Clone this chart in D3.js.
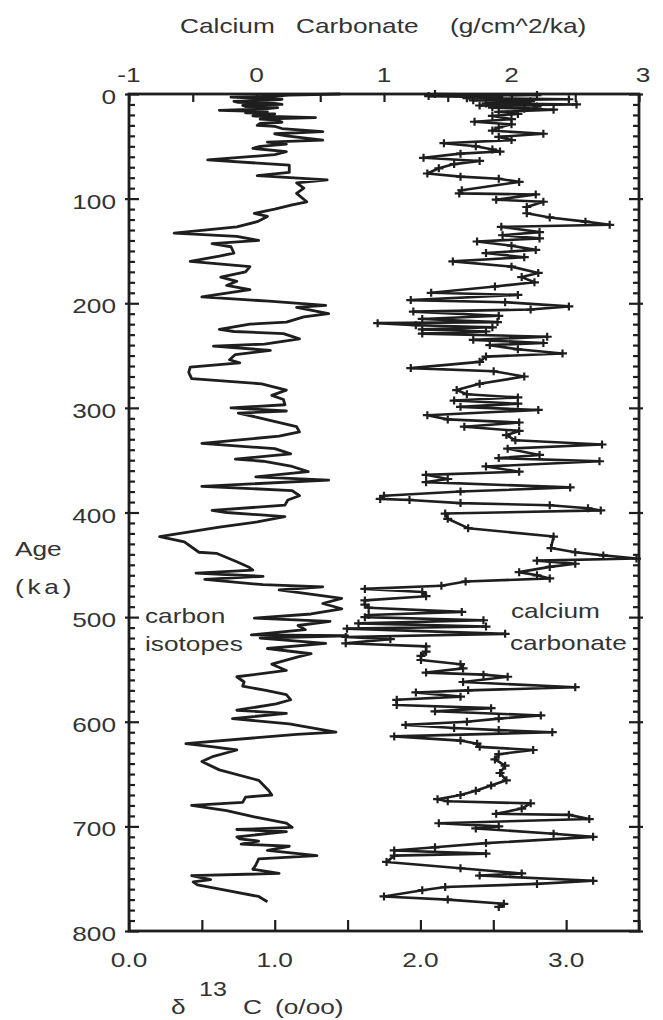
<!DOCTYPE html>
<html>
<head>
<meta charset="utf-8">
<script src="https://cdn.jsdelivr.net/npm/d3@7"></script>
<style>
  body { margin: 0; background: #fff; }
  text { font-family: "Liberation Sans", Arial, Helvetica, sans-serif; fill: #333; }
</style>
</head>
<body>
<svg width="663" height="1020"></svg>
<script>
// carbon isotopes: age (ka) and d13C (o/oo), bottom axis
const carbonAge = [0,1,2,3,4,5,6,7,8,9,10,11,12,13,14,15.6,17,18,19,20,21,22.5,24,25,27,28,30,31,33,36,38,40,44,46,48,50,52,55,58,63,68,75,78,82,85,90,95,103,106,110,114,117,122,127,133,136,140,143,146,152,155,160,165,170,175,179,183,187,194,198,202,204,210,213,218,220,225,227,229,234,239,241,245,249,254,257,261,266,272,277,283,288,292,297,300,303,305,309,318,323,327,334,339,344,349,351,356,361,366,369,375,379,384,388,393,398,400,404,409,414,423,428,438,439,447,452,455,458,461,464,469,471,474,482,487,492,497,501,504,508,512,517,517.8,520,525,530,535,538,545,551,557,562,566,570,574,579,583,589,592,597,602,610,612,621,624,627,633,638,646,656,666,670,672,677,680,685,691,697,701,703,705,710,712,714,717,719,723,728,731,737,741,745,747,751,753,756,761,767,772]
const carbonD13C = [1.45,1.1,1.0,0.7,0.85,1.05,0.95,0.72,0.75,1.0,1.05,0.78,0.8,1.02,0.95,0.62,0.95,0.8,1.0,0.88,0.85,1.28,0.9,1.02,1.05,0.9,0.88,1.0,1.05,1.33,1.0,1.08,1.33,0.95,1.08,0.9,0.85,1.08,1.0,0.54,1.1,1.1,0.88,1.36,1.15,1.2,1.15,1.22,1.12,1.0,0.86,0.95,0.88,0.74,0.31,0.74,0.89,0.57,0.7,0.72,0.62,0.42,0.83,0.8,0.63,0.74,0.67,0.83,0.5,0.96,1.35,1.15,1.37,1.2,1.08,0.83,0.62,0.72,1.06,1.17,0.93,0.58,0.97,0.73,0.69,0.76,0.42,0.41,0.43,0.91,1.08,0.98,1.06,1.07,0.7,1.08,0.75,0.88,1.15,1.17,1.03,0.5,1.0,1.11,0.73,0.92,1.12,1.23,0.87,1.37,0.5,1.12,1.17,1.09,1.07,0.57,0.67,1.07,0.88,0.62,0.21,0.38,0.48,0.6,0.74,0.82,0.85,0.46,0.92,0.52,0.92,1.33,1.03,1.46,1.33,1.46,1.25,0.86,1.38,1.16,1.21,0.84,1.5,0.9,1.35,0.95,1.25,1.16,0.98,1.08,0.74,0.79,0.78,0.94,1.08,1.11,1.01,0.74,1.08,0.71,1.1,1.42,1.15,0.39,0.58,0.74,0.58,0.5,0.62,0.89,0.96,0.98,0.8,0.78,0.43,0.67,0.86,1.08,1.12,0.74,1.08,0.74,0.76,0.89,0.77,1.1,0.95,1.29,0.89,0.87,0.85,1.03,0.43,0.56,0.44,0.47,0.66,0.89,0.95]

// calcium carbonate: age (ka) and flux (g/cm^2/ka), top axis
const caco3Age = [0,1,2,3,4,5,6,7,8,9,10,11,12,13,14,15,17,19,21,24,26.5,29,32,35,38,41,44,47,50,53,55,57,61,64,67,71,76,79,81,84,92,95,96,101,103,108,114,118,122,125,127,132,135,138,141,145,149,152,156,160,165,171,175,180,184,190,192,197,199,203,206,208,212,215,218,219,221,223,225,227,229,232,235,238,240,244,248,251,256,262,265,270,277,283,287,290,293,296,299,302,307,311,314,318,322,326,331,335,339,345,348,351,356,361,364,368,371,376,380,384,387,388,391,393,396,398,401,406,415,423,434,438,441,444,446,449,452,457,460,463,466,470,473,476,480,484,488,491,495,498,500,503,506,509,511,516,519,521,525,528,533,537,541,545,549,553,555,557,562,567,570,572,576,579,584,587,590,594,597,600,603,606,608,610,614,618,621,624,627,631,636,642,649,656,661,666,670,674,676,678,683,688,689,693,697,700,702,707,710,716,720,723,726,728,734,740,745,747,752,755,758,761,767,770,774,777]
const caco3Flux = [1.4,2.2,1.35,1.9,1.65,2.45,1.7,2.15,2.1,1.8,2.51,1.75,2.2,1.85,2.1,2.33,1.9,2.05,1.85,2.0,1.71,2.0,1.9,1.85,2.25,1.9,2.0,1.47,1.72,1.85,1.91,1.6,1.31,1.75,1.55,1.43,1.34,1.6,1.9,2.06,1.61,1.59,2.19,1.88,2.25,2.12,2.12,2.3,2.58,2.77,1.92,2.22,1.93,2.22,1.73,2.0,2.19,1.8,2.1,1.54,2.0,2.21,2.08,2.18,1.87,1.37,2.05,1.21,1.95,2.45,2.15,1.23,1.9,1.3,1.89,0.95,1.25,1.85,1.3,1.8,1.3,2.28,1.7,2.25,1.83,2.05,2.4,1.8,1.75,1.21,1.86,2.1,1.75,1.57,1.65,2.05,1.55,2.05,1.6,2.21,1.34,1.5,2.06,1.63,2.06,1.96,2.03,2.71,1.97,2.22,1.9,2.69,1.8,2.06,1.33,1.5,1.33,2.46,1.6,1.0,0.97,1.2,1.6,2.3,2.6,2.7,1.48,1.5,1.66,2.33,2.31,2.5,2.72,2.98,2.2,2.5,2.3,2.06,2.2,2.3,1.64,1.45,0.85,1.3,1.33,0.85,0.85,0.88,1.61,0.88,0.85,1.78,0.8,1.8,0.71,1.95,0.7,1.05,0.7,1.33,1.33,1.29,1.29,1.6,1.62,1.33,1.78,1.97,1.62,2.5,1.66,1.25,1.6,1.1,1.1,1.84,1.4,2.23,1.9,1.65,1.17,1.55,1.9,2.32,1.08,1.6,1.73,1.75,2.17,1.9,1.87,1.95,1.91,1.96,1.84,1.72,1.6,1.42,1.5,2.15,2.08,1.88,2.45,2.61,1.43,1.9,1.72,2.33,2.64,1.8,1.4,1.08,1.8,1.08,1.02,1.6,2.08,1.75,2.64,2.2,1.48,1.3,1.0,1.5,1.94,1.9]

const ageTicks = [0,100,200,300,400,500,600,700,800]
const topTicks = [-1,0,1,2,3]
const bottomTicks = [0,1,2,3]

const svg = d3.select("svg")
const pLeft = 129, pRight = 639, pTop = 94, pBottom = 931
const ink = "#1e1e1e"

const y = d3.scaleLinear().domain([0,800]).range([pTop,pBottom])
const xC = d3.scaleLinear().domain([0,3.5]).range([pLeft,pRight])
const xCa = d3.scaleLinear().domain([-1,3]).range([pLeft,pRight])

// text is a bit wide in the original, so stretch it horizontally
function label(x, yy, txt, anchor, size) {
  return svg.append("text")
    .attr("transform", `translate(${x},${yy}) scale(1.25,1)`)
    .attr("text-anchor", anchor || "start")
    .attr("font-size", size || 21)
    .text(txt)
}

// curves
const carbon = carbonAge.map((a,i) => ({a: a, v: carbonD13C[i]}))
const caco3 = caco3Age.map((a,i) => ({a: a, v: caco3Flux[i]}))

svg.append("path")
  .attr("d", d3.line().x(d => xC(d.v)).y(d => y(d.a))(carbon))
  .attr("fill","none").attr("stroke",ink).attr("stroke-width",2.8)
  .attr("stroke-linejoin","round")

svg.append("path")
  .attr("d", d3.line().x(d => xCa(d.v)).y(d => y(d.a))(caco3))
  .attr("fill","none").attr("stroke",ink).attr("stroke-width",2.6)
  .attr("stroke-linejoin","round")

svg.append("g").selectAll("path").data(caco3).join("path")
  .attr("d", d => `M${xCa(d.v)-4.5},${y(d.a)}h9M${xCa(d.v)},${y(d.a)-4}v8`)
  .attr("stroke",ink).attr("stroke-width",2.2)

// frame
svg.append("rect").attr("x",pLeft).attr("y",pTop)
  .attr("width",pRight-pLeft).attr("height",pBottom-pTop)
  .attr("fill","none").attr("stroke",ink).attr("stroke-width",2.8)

// ticks (inward), labels drawn separately
function ticks(axis, tr) {
  const g = svg.append("g").attr("transform", tr).call(axis)
  g.select(".domain").remove()
  g.selectAll("line").attr("stroke",ink).attr("stroke-width",2.2)
  g.selectAll("text").remove()
}
const minorAge = d3.range(0,801,10).filter(v => v % 100 != 0)
ticks(d3.axisRight(y).tickValues(minorAge).tickSize(6), `translate(${pLeft},0)`)
ticks(d3.axisLeft(y).tickValues(minorAge).tickSize(6), `translate(${pRight},0)`)
ticks(d3.axisRight(y).tickValues(ageTicks).tickSize(14), `translate(${pLeft-4},0)`)
ticks(d3.axisLeft(y).tickValues(ageTicks).tickSize(14), `translate(${pRight+4},0)`)
ticks(d3.axisBottom(xCa).tickValues(d3.range(-1,3.01,0.5)).tickSize(8), `translate(0,${pTop})`)
ticks(d3.axisTop(xC).tickValues(d3.range(0,3.51,0.5)).tickSize(11), `translate(0,${pBottom})`)

// tick labels
ageTicks.forEach(v => label(116, y(v) + 10, v, "end"))
topTicks.forEach(v => label(xCa(v) + (v == 3 ? 4 : 0), 82, v, "middle"))
bottomTicks.forEach(v => label(xC(v), 967, d3.format(".1f")(v), "middle"))

// axis titles
label(180, 33, "Calcium")
label(296, 33, "Carbonate")
label(450, 33, "(g/cm^2/ka)")
label(15, 556, "Age")
label(15, 594, "(ka)").attr("letter-spacing", 3)
label(171, 1014, "δ")
label(199, 996, "13", "start", 20)
label(243, 1014, "C")
label(275, 1014, "(o/oo)")

// series names
label(145, 623, "carbon")
label(145, 651, "isotopes")
label(511, 618, "calcium")
label(510, 650, "carbonate")
</script>
</body>
</html>
